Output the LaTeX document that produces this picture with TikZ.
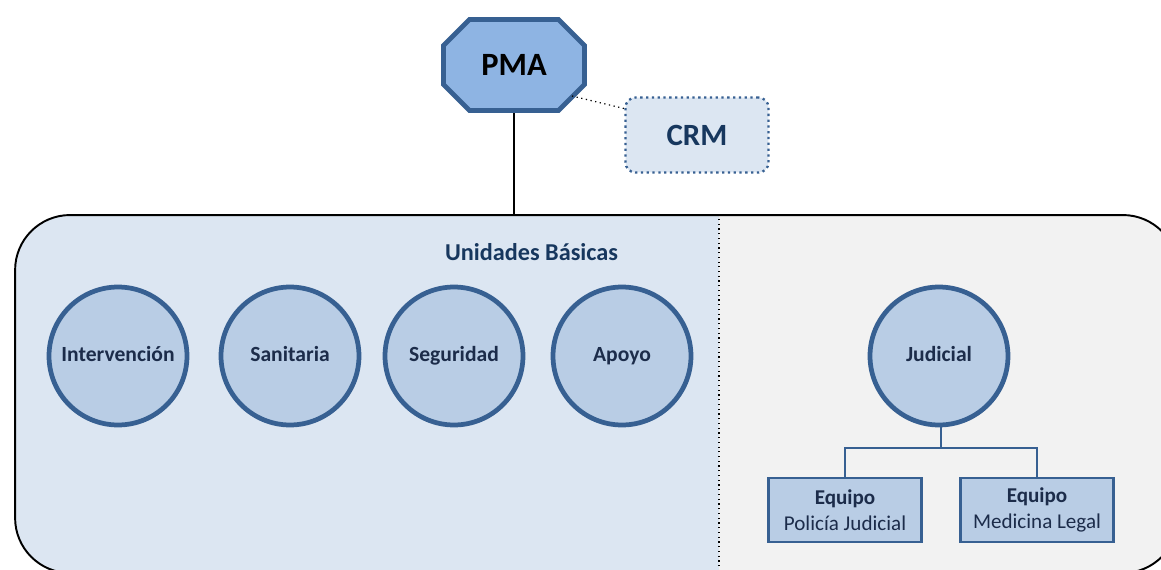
\documentclass[tikz,border=0pt]{standalone}
\usepackage{fontspec}
\setmainfont{Carlito}
\usepackage{tikz}
\usetikzlibrary{calc}
\definecolor{borde}{HTML}{376092}
\definecolor{relleno}{HTML}{B9CDE5}
\definecolor{fondoazul}{HTML}{DCE6F2}
\definecolor{fondogris}{HTML}{F2F2F2}
\definecolor{pmaazul}{HTML}{8EB4E3}
\definecolor{textoazul}{HTML}{17375E}
\definecolor{textonavy}{HTML}{1C2C4A}
\tikzset{
	unidad/.style={circle, draw=borde, fill=relleno, line width=2.7pt, minimum size=2.76cm, inner sep=0pt,
		text height=1.6ex, text depth=0.4ex,
		font=\fontsize{12.3}{14}\selectfont\bfseries, text=textonavy},
	equipo/.style={rectangle, draw=borde, fill=relleno, line width=1.6pt, minimum width=3.06cm, minimum height=1.28cm,
		inner sep=0pt, align=center, font=\fontsize{12}{15}\selectfont, text=textonavy},
	rama/.style={draw=borde, line width=1pt}
}

\begin{document}
\begin{tikzpicture}[x=0.02cm, y=-0.02cm]
			%%%%% START %%%%%
			\useasboundingbox (0, 0) rectangle (1161, 569);
			\clip (0, 0) rectangle (1161, 569);
			
			% marco de fondo
			\begin{scope}
				\clip[rounded corners=1.1cm] (15, 215) rectangle (1178, 573);
				\fill[fondoazul] (15, 215) rectangle (719, 573);
				\fill[fondogris] (719, 215) rectangle (1178, 573);
			\end{scope}
			\node[draw=black, line width=1.1pt, rounded corners=1.1cm, minimum width=23.26cm, minimum height=7.16cm, inner sep=0pt] (marco) at (596.5, 394) {};
			\coordinate (corte) at (719, 0);
			\draw[dotted, line width=0.7pt] (marco.north -| corte) -- (marco.south -| corte);
			
			% PMA y CRM
			\draw[line width=2.8pt, draw=borde, fill=pmaazul] (469.5, 19.5) -- (558.5, 19.5) -- (584.5, 45.5) -- (584.5, 84.5)
				-- (558.5, 110.5) -- (469.5, 110.5) -- (443.5, 84.5) -- (443.5, 45.5) -- cycle;
			\node[minimum width=2.92cm, minimum height=1.92cm, inner sep=0pt, font=\fontsize{18.5}{20}\selectfont\bfseries] (pma) at (514, 65) {PMA};
			
			\node[draw=borde, fill=fondoazul, dotted, line width=1.3pt, rounded corners=0.2cm, minimum width=2.86cm, minimum height=1.5cm,
				inner sep=0pt, text=textoazul, font=\fontsize{17.6}{20}\selectfont\bfseries] (crm) at (697, 135) {CRM};
			\coordinate (pmaesq) at (572, 96);
			\draw[dotted, line width=0.7pt] (pmaesq) -- (crm.160);
			
			\draw[line width=0.9pt] (pma.south) -- (pma.south |- marco.north);
			
			% unidades basicas
			\node[text=textoazul, font=\fontsize{13.8}{16}\selectfont\bfseries] (titulo) at (531.5, 252) {Unidades Básicas};
			
			\node[unidad] (interv) at (118, 356) {Intervención};
			\node[unidad] (sanit) at (290, 356) {Sanitaria};
			\node[unidad] (segur) at (454, 356) {Seguridad};
			\node[unidad] (apoyo) at (622, 356) {Apoyo};
			
			% judicial
			\node[unidad] (judic) at (939, 356) {Judicial};
			\node[equipo] (policia) at (845, 510) {\textbf{Equipo}\\Policía Judicial};
			\node[equipo] (medicina) at (1037, 510) {\textbf{Equipo}\\Medicina Legal};
			
			\coordinate (cruce) at (941, 448);
			\draw[rama] (judic.south -| cruce) -- (cruce);
			\draw[rama] (cruce) -| (policia.north);
			\draw[rama] (cruce) -| (medicina.north);
			
			%%%%% END %%%%%
\end{tikzpicture}
\end{document}
